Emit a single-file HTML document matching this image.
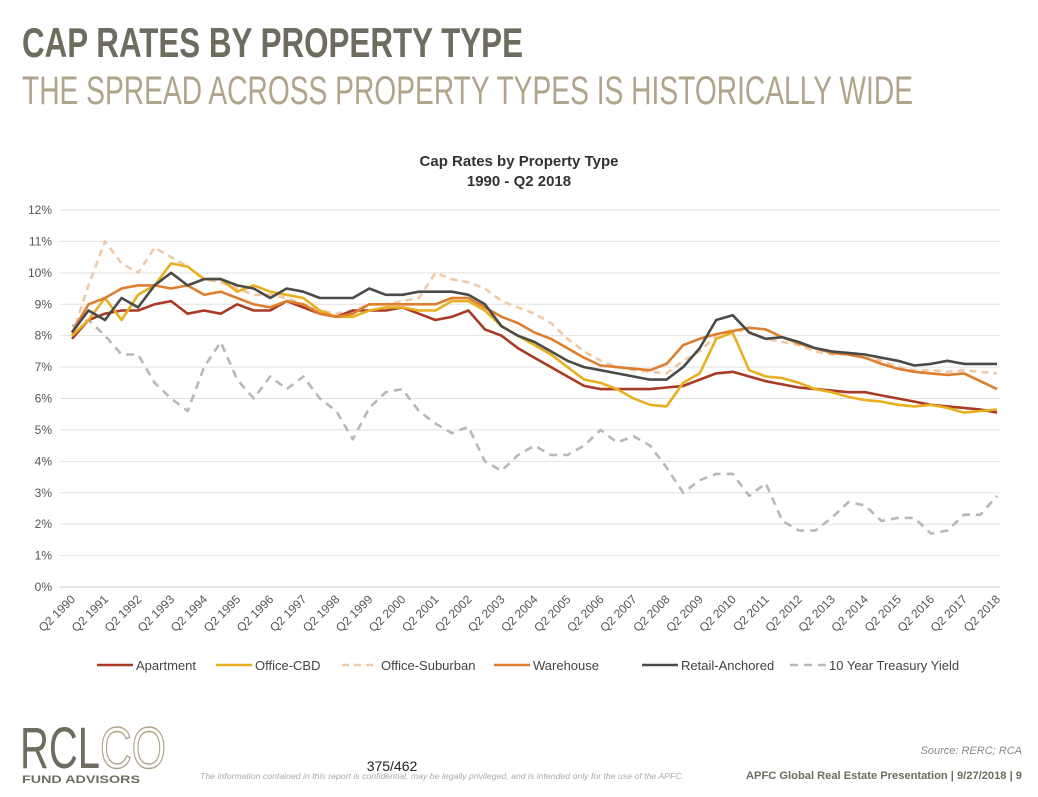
<!DOCTYPE html>
<html><head><meta charset="utf-8"><style>
html,body{margin:0;padding:0;background:#fff;}
svg{display:block;font-family:"Liberation Sans",sans-serif;}
</style></head><body>
<svg id="chart" width="1038" height="797" viewBox="0 0 1038 797">
<text x="22" y="57" font-size="42" font-weight="bold" fill="#6e6c5e" textLength="501" lengthAdjust="spacingAndGlyphs">CAP RATES BY PROPERTY TYPE</text>
<text x="22" y="104" font-size="40" fill="#b0a58c" textLength="891" lengthAdjust="spacingAndGlyphs">THE SPREAD ACROSS PROPERTY TYPES IS HISTORICALLY WIDE</text>
<text x="519" y="166" font-size="15" font-weight="bold" fill="#333" text-anchor="middle">Cap Rates by Property Type</text>
<text x="519" y="186" font-size="15" font-weight="bold" fill="#333" text-anchor="middle">1990 - Q2 2018</text>
<g id="grid"></g><g id="ylabels"></g><g id="xlabels"></g><g id="series"></g>
<g id="legend"></g>
<g>
<text x="20" y="768" font-size="58" fill="#6e6c5e" textLength="80" lengthAdjust="spacingAndGlyphs">RCL</text>
<text x="100" y="768" font-size="58" fill="none" stroke="#b0a58c" stroke-width="1.5" textLength="66" lengthAdjust="spacingAndGlyphs">CO</text>
<text x="22" y="783" font-size="11" font-weight="bold" fill="#6e6c5e" textLength="118" lengthAdjust="spacingAndGlyphs">FUND ADVISORS</text>
</g>
<text x="392" y="771" font-size="14" fill="#222" text-anchor="middle">375/462</text>
<text x="200" y="779" font-size="8" font-style="italic" fill="#aaa" textLength="484" lengthAdjust="spacingAndGlyphs">The information contained in this report is confidential, may be legally privileged, and is intended only for the use of the APFC.</text>
<text x="1022" y="754" font-size="11" font-style="italic" fill="#888" text-anchor="end">Source: RERC; RCA</text>
<text x="1022" y="779" font-size="11" font-weight="bold" fill="#6e6c5e" text-anchor="end" textLength="276" lengthAdjust="spacingAndGlyphs">APFC Global Real Estate Presentation | 9/27/2018 | 9</text>
</svg>
<script>
const years = [];
for (let y = 1990; y <= 2018; y++) years.push('Q2 ' + y);
const yTicks = [0,1,2,3,4,5,6,7,8,9,10,11,12];
const apartment = [7.9,8.5,8.7,8.8,8.8,9.0,9.1,8.7,8.8,8.7,9.0,8.8,8.8,9.1,8.9,8.7,8.6,8.8,8.8,8.8,8.9,8.7,8.5,8.6,8.8,8.2,8.0,7.6,7.3,7.0,6.7,6.4,6.3,6.3,6.3,6.3,6.35,6.4,6.6,6.8,6.85,6.7,6.55,6.45,6.35,6.3,6.25,6.2,6.2,6.1,6.0,5.9,5.8,5.75,5.7,5.65,5.55];
const officeCBD = [8.0,8.5,9.2,8.5,9.3,9.6,10.3,10.2,9.8,9.8,9.4,9.6,9.4,9.3,9.2,8.8,8.6,8.6,8.8,8.9,8.9,8.8,8.8,9.1,9.1,8.8,8.3,8.0,7.7,7.4,7.0,6.6,6.5,6.3,6.0,5.8,5.75,6.5,6.8,7.9,8.1,6.9,6.7,6.65,6.5,6.3,6.2,6.05,5.95,5.9,5.8,5.75,5.8,5.7,5.55,5.6,5.65];
const officeSuburban = [8.0,9.6,11.0,10.3,10.0,10.8,10.5,10.2,9.8,9.7,9.5,9.3,9.3,9.2,9.0,8.8,8.7,8.8,9.0,9.0,9.1,9.2,10.0,9.8,9.7,9.5,9.1,8.9,8.7,8.4,7.9,7.5,7.2,7.0,6.9,6.85,6.8,7.2,7.5,8.0,8.2,8.1,7.9,7.8,7.7,7.5,7.4,7.4,7.3,7.2,7.0,6.9,6.9,6.85,6.9,6.85,6.8];
const warehouse = [8.1,9.0,9.2,9.5,9.6,9.6,9.5,9.6,9.3,9.4,9.2,9.0,8.9,9.1,9.0,8.7,8.6,8.7,9.0,9.0,9.0,9.0,9.0,9.2,9.2,8.9,8.6,8.4,8.1,7.9,7.6,7.3,7.05,7.0,6.95,6.9,7.1,7.7,7.9,8.05,8.15,8.25,8.2,7.95,7.75,7.6,7.45,7.4,7.3,7.1,6.95,6.85,6.8,6.75,6.8,6.55,6.3];
const retailAnchored = [8.1,8.8,8.5,9.2,8.9,9.6,10.0,9.6,9.8,9.8,9.6,9.5,9.2,9.5,9.4,9.2,9.2,9.2,9.5,9.3,9.3,9.4,9.4,9.4,9.3,9.0,8.3,8.0,7.8,7.5,7.2,7.0,6.9,6.8,6.7,6.6,6.6,7.0,7.6,8.5,8.65,8.1,7.9,7.95,7.8,7.6,7.5,7.45,7.4,7.3,7.2,7.05,7.1,7.2,7.1,7.1,7.1];
const treasury = [8.3,8.5,8.0,7.4,7.4,6.5,6.0,5.6,7.0,7.8,6.6,6.0,6.7,6.3,6.7,6.0,5.6,4.7,5.7,6.2,6.3,5.6,5.2,4.9,5.1,4.0,3.7,4.2,4.5,4.2,4.2,4.5,5.0,4.6,4.8,4.5,3.8,3.0,3.4,3.6,3.6,2.9,3.3,2.1,1.8,1.8,2.2,2.7,2.6,2.1,2.2,2.2,1.7,1.8,2.3,2.3,2.9];
const seriesNames = ['Apartment','Office-CBD','Office-Suburban','Warehouse','Retail-Anchored','10 Year Treasury Yield'];

const NS = 'http://www.w3.org/2000/svg';
const X0 = 72, X1 = 997, Y0 = 587, Y12 = 210;
function xPos(i, n) { return X0 + (X1 - X0) * i / (n - 1); }
function yPos(v) { return Y0 - (Y0 - Y12) * v / 12; }
function mk(tag, attrs, parent) {
  const e = document.createElementNS(NS, tag);
  for (const k in attrs) e.setAttribute(k, attrs[k]);
  parent.appendChild(e); return e;
}
const grid = document.getElementById('grid');
const yl = document.getElementById('ylabels');
yTicks.forEach(t => {
  const l = mk('line', {x1: 60, x2: 1000, y1: yPos(t), y2: yPos(t), stroke: t === 0 ? '#c8c8c8' : '#e2e2e2', 'stroke-width': 1}, grid);
  
  
  const tx = mk('text', {x: 52, y: yPos(t) + 4, 'font-size': 12, fill: '#555', 'text-anchor': 'end'}, yl);
  tx.textContent = t + '%';
  
  
});
const xl = document.getElementById('xlabels');
years.forEach((lab, i) => {
  const x = X0 + (X1 - X0) * i / (years.length - 1);
  const tx = mk('text', {x: x + 4, y: 600, 'font-size': 12, fill: '#555', 'text-anchor': 'end', transform: `rotate(-45 ${x + 4} 600)`}, xl);
  tx.textContent = lab;
  
  
});
const styles = [
  {data: apartment, color: '#a83a26', dash: null, name: 'apartment-line'},
  {data: officeCBD, color: '#e8b020', dash: null, name: 'office-cbd-line'},
  {data: officeSuburban, color: '#f0c9a8', dash: '7 5', name: 'office-suburban-line'},
  {data: warehouse, color: '#dd7f2e', dash: null, name: 'warehouse-line'},
  {data: retailAnchored, color: '#4a4a48', dash: null, name: 'retail-anchored-line'},
  {data: treasury, color: '#b8b8b8', dash: '8 6', name: 'treasury-line'}
];
const sg = document.getElementById('series');
const order = [5, 2, 0, 1, 3, 4];
order.forEach(k => {
  const s = styles[k];
  const d = s.data.map((v, i) => (i ? 'L' : 'M') + xPos(i, s.data.length).toFixed(1) + ' ' + yPos(v).toFixed(1)).join(' ');
  const p = mk('path', {d: d, fill: 'none', stroke: s.color, 'stroke-width': 2.6, 'stroke-linejoin': 'round'}, sg);
  if (s.dash) p.setAttribute('stroke-dasharray', s.dash);
  
  
});
const lg = document.getElementById('legend');
const lx = [97, 216, 342, 494, 642, 790];
seriesNames.forEach((n, k) => {
  const s = styles[k];
  const ln = mk('line', {x1: lx[k], x2: lx[k] + 36, y1: 665, y2: 665, stroke: s.color, 'stroke-width': 2.6}, lg);
  if (s.dash) ln.setAttribute('stroke-dasharray', s.dash);
  
  
  const t = mk('text', {x: lx[k] + 39, y: 670, 'font-size': 13, fill: '#444'}, lg);
  t.textContent = n;
  
  
});
</script>
</body></html>
